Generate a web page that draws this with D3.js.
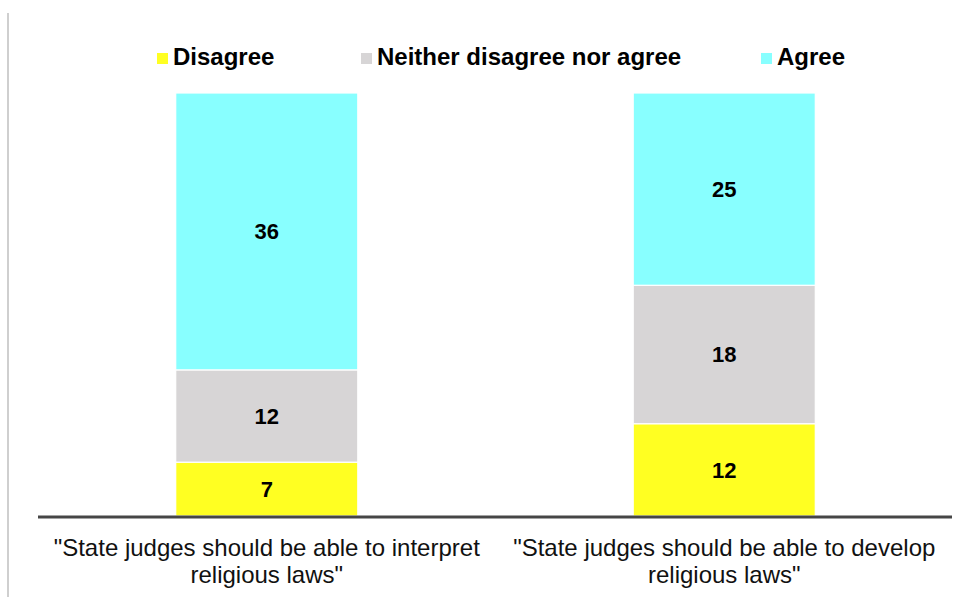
<!DOCTYPE html>
<html>
<head>
<meta charset="utf-8">
<script src="https://cdn.jsdelivr.net/npm/d3@7/dist/d3.min.js"></script>
<style>
  html, body { margin: 0; padding: 0; background: #fff; }
  svg { display: block; font-family: "Liberation Sans", Arial, sans-serif; }
</style>
</head>
<body>
<svg id="chart" width="967" height="597"></svg>
<script>
// Survey statements (x categories), each drawn on two lines
const categories = [
  ["\"State judges should be able to interpret", "religious laws\""],
  ["\"State judges should be able to develop", "religious laws\""]
];
const seriesNames = ["Disagree", "Neither disagree nor agree", "Agree"];
const seriesColors = ["#FFFF22", "#D7D5D6", "#88FFFF"];
const disagree = [7, 12];
const neither = [12, 18];
const agree = [36, 25];

const svg = d3.select("#chart");
const W = 967, H = 597;
const baseY = 516, topY = 93;

const rows = categories.map((c, i) => ({
  key: i, label: c,
  Disagree: disagree[i],
  "Neither disagree nor agree": neither[i],
  Agree: agree[i]
}));

const stack = d3.stack().keys(seriesNames)(rows);
const maxTotal = d3.max(rows, r => r.Disagree + r["Neither disagree nor agree"] + r.Agree);

const x = d3.scaleBand()
  .domain(rows.map(r => r.key))
  .range([38, 953])
  .paddingInner(0.602)
  .paddingOuter(0.301);

const y = d3.scaleLinear().domain([0, maxTotal]).range([baseY, topY]);

const color = d3.scaleOrdinal().domain(seriesNames).range(seriesColors);

// left frame line
svg.append("line")
  .attr("x1", 8).attr("x2", 8).attr("y1", 13).attr("y2", H)
  .attr("stroke", "#cfcfcf").attr("stroke-width", 2);

// stacked segments
const layers = svg.append("g").selectAll("g")
  .data(stack).join("g")
  .attr("fill", d => color(d.key));

layers.selectAll("rect")
  .data(d => d.map(v => ({ v, key: d.key })))
  .join("rect")
  .attr("x", d => x(d.v.data.key))
  .attr("width", x.bandwidth())
  .attr("y", d => y(d.v[1]))
  .attr("height", d => y(d.v[0]) - y(d.v[1]))
  .attr("stroke", "#ffffff")
  .attr("stroke-width", 1.2);

// value labels
layers.selectAll("text")
  .data(d => d.map(v => ({ v, key: d.key })))
  .join("text")
  .attr("x", d => x(d.v.data.key) + x.bandwidth() / 2)
  .attr("y", d => (y(d.v[0]) + y(d.v[1])) / 2)
  .attr("dy", "0.36em")
  .attr("text-anchor", "middle")
  .attr("fill", "#000")
  .style("font-weight", "bold")
  .style("font-size", "22px")
  .text(d => d.v[1] - d.v[0]);

// baseline
svg.append("line")
  .attr("x1", 38).attr("x2", 952)
  .attr("y1", baseY + 1).attr("y2", baseY + 1)
  .attr("stroke", "#464646").attr("stroke-width", 3);

// category labels
const catG = svg.append("g");
rows.forEach(r => {
  const t = catG.append("text")
    .attr("x", x(r.key) + x.bandwidth() / 2)
    .attr("y", 556)
    .attr("text-anchor", "middle")
    .attr("fill", "#111")
    .style("font-size", "24px");
  r.label.forEach((line, i) => {
    t.append("tspan")
      .attr("x", x(r.key) + x.bandwidth() / 2)
      .attr("dy", i === 0 ? 0 : 27)
      .text(line);
  });
});

// legend
const legendX = [157, 361, 761];
const legend = svg.append("g").selectAll("g")
  .data(seriesNames).join("g")
  .attr("transform", (d, i) => `translate(${legendX[i]},65)`);
legend.append("rect")
  .attr("x", 0).attr("y", -12)
  .attr("width", 11).attr("height", 11)
  .attr("fill", d => color(d));
legend.append("text")
  .attr("x", 16).attr("y", 0)
  .attr("fill", "#000")
  .style("font-weight", "bold")
  .style("font-size", "24px")
  .text(d => d);
</script>
</body>
</html>
